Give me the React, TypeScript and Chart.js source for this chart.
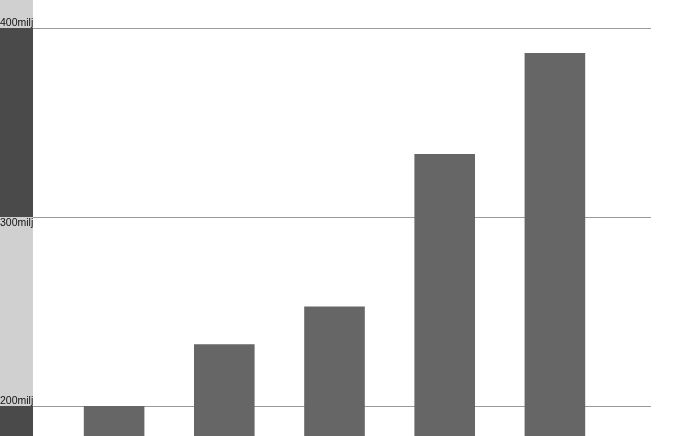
import { useEffect, useRef } from "react";
import { Chart, registerables, type Plugin } from "chart.js";

Chart.register(...registerables);

const categories = ["1", "2", "3", "4", "5"];
const values = [200, 232.6, 252.6, 333.2, 386.7];
const tickValues = [200, 300, 400];
const tickLabels = ["200milj", "300milj", "400milj"];

const LIGHT = "#d0d0d0";
const DARK = "#4a4a4a";

// left strip bands + grid lines + labels, drawn behind the bars
const gridPlugin: Plugin<"bar"> = {
  id: "stripGrid",
  beforeDatasetsDraw(chart) {
    const { ctx } = chart;
    const y = chart.scales.y;
    const h = chart.height;
    const stripW = 33;
    const lineEnd = 651;
    // band edges from top to bottom
    const desc = tickValues.slice().reverse();
    const edges = [0, ...desc.map((v) => Math.round(y.getPixelForValue(v))), h];
    ctx.save();
    for (let i = 0; i < edges.length - 1; i++) {
      ctx.fillStyle = i % 2 === 0 ? LIGHT : DARK;
      ctx.fillRect(0, edges[i], stripW, edges[i + 1] - edges[i]);
    }
    ctx.strokeStyle = "#9a9a9a";
    ctx.lineWidth = 1;
    ctx.font = "10.5px 'Liberation Sans', Arial, sans-serif";
    ctx.fillStyle = "#111";
    ctx.textAlign = "left";
    desc.forEach((v, i) => {
      const py = Math.round(y.getPixelForValue(v)) + 0.5;
      ctx.beginPath();
      ctx.moveTo(stripW, py);
      ctx.lineTo(lineEnd, py);
      ctx.stroke();
      const label = tickLabels[tickValues.indexOf(v)];
      // label sits in the light band next to the line
      const lightAbove = i % 2 === 0;
      if (lightAbove) {
        ctx.textBaseline = "alphabetic";
        ctx.fillText(label, 0, py - 3);
      } else {
        ctx.textBaseline = "alphabetic";
        ctx.fillText(label, 0, py + 8);
      }
    });
    ctx.restore();
  },
};

export default function App() {
  const chartRef = useRef<HTMLCanvasElement | null>(null);
  const chartInstance = useRef<Chart<"bar"> | null>(null);

  useEffect(() => {
    document.body.style.margin = "0";
    if (!chartRef.current) return;
    const ctx = chartRef.current.getContext("2d");
    if (!ctx) return;
    chartInstance.current?.destroy();

    chartInstance.current = new Chart(ctx, {
      type: "bar",
      data: {
        labels: categories,
        datasets: [
          {
            data: values,
            backgroundColor: "#666666",
            borderWidth: 0,
            categoryPercentage: 1,
            barPercentage: 0.55,
          },
        ],
      },
      options: {
        responsive: false,
        animation: false,
        devicePixelRatio: 1,
        layout: { padding: { left: 59, right: 69, top: 0, bottom: 0 } },
        plugins: { legend: { display: false }, tooltip: { enabled: false } },
        scales: {
          x: { display: false, offset: true },
          y: { display: false, min: 184.1, max: 414.7 },
        },
      },
      plugins: [gridPlugin],
    });

    return () => {
      chartInstance.current?.destroy();
      chartInstance.current = null;
    };
  }, []);

  return (
    <div style={{ width: 679, height: 436, background: "#fff" }}>
      <canvas ref={chartRef} width={679} height={436}></canvas>
    </div>
  );
}
